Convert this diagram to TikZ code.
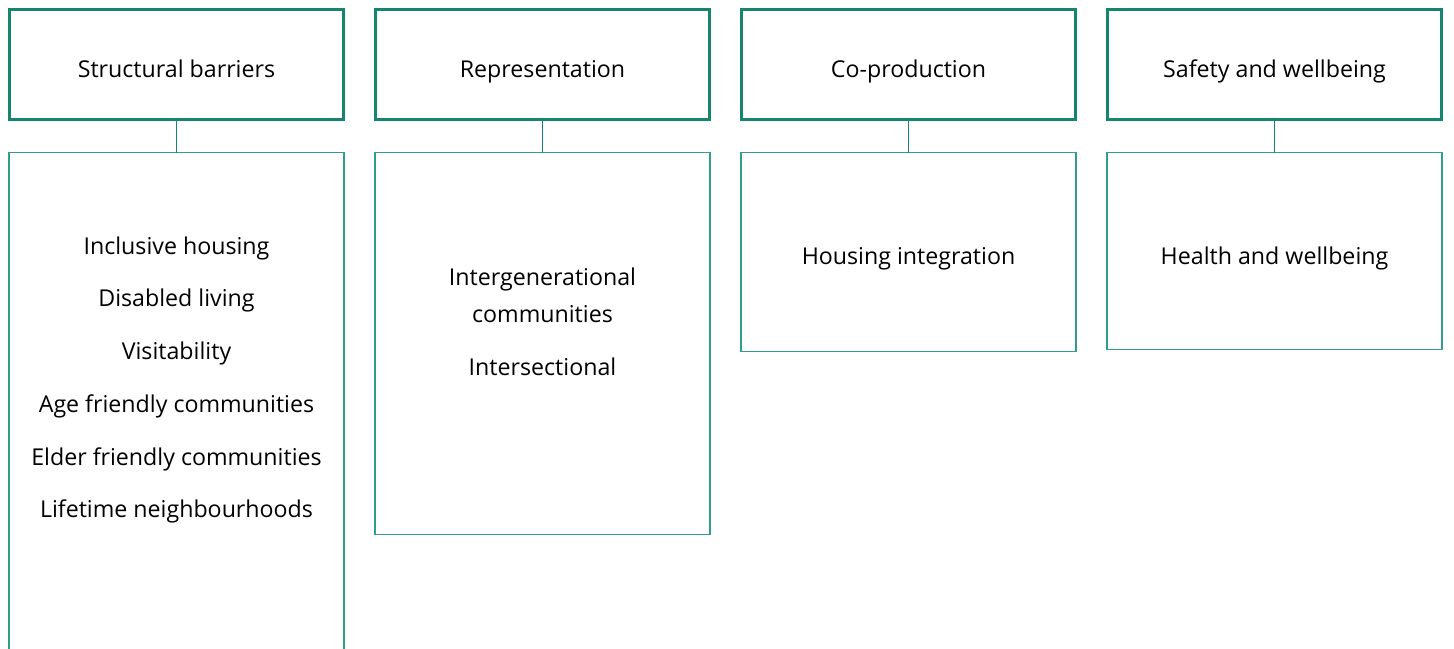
\documentclass[tikz,border=0pt]{standalone}
\usepackage{fontspec}
\setmainfont{Open Sans}
\usetikzlibrary{positioning}
\definecolor{headGreen}{RGB}{22,133,110}
\definecolor{bodyGreen}{RGB}{48,158,138}
\begin{document}
\begin{tikzpicture}
[headDecorate/.style={shape=rectangle,draw=headGreen,line width=1.8pt,inner sep=0pt,outer sep=0pt,
   minimum width=6.68cm,minimum height=2.2cm,text height=0.5cm,text depth=0cm,
   font=\fontsize{13.2}{15}\selectfont},%
  bodyDecorate/.style={shape=rectangle,draw=bodyGreen,line width=0.8pt,inner sep=0pt,outer sep=0pt,
   minimum width=6.7cm},%
  textDecorate/.style={align=center,font=\fontsize{13.2}{21}\selectfont},%
  lineDecorate/.style={-,draw=headGreen,line width=1.1pt}]
\useasboundingbox (0,0) rectangle (29.08,-12.96);
%% header boxes
\foreach \nodename/\x/\heading in {
  h1/3.53/Structural barriers, h2/10.85/Representation,
  h3/18.17/Co-production, h4/25.49/Safety and wellbeing}
{
  \node (\nodename) at (\x,-1.29) [headDecorate] {\heading};
}
%% body boxes
\foreach \nodename/\topname/\height in {
  b1/h1/10.94, b2/h2/7.64, b3/h3/3.98, b4/h4/3.94}
{
  \node (\nodename) [bodyDecorate,minimum height=\height cm,below=0.66cm of \topname] {};
}
%% texts in the body boxes
\foreach \nodename/\boxname/\depth/\entries in {
  t1/b1/4.55/{Inclusive housing\\[9pt]Disabled living\\[9pt]Visitability\\[9pt]Age friendly communities\\[9pt]Elder friendly communities\\[9pt]Lifetime neighbourhoods},
  t2/b2/3.39/{Intergenerational\\communities\\[9pt]Intersectional},
  t3/b3/2.13/{Housing integration},
  t4/b4/2.11/{Health and wellbeing}}
{
  \node (\nodename) at ([yshift=-\depth cm]\boxname.north) [textDecorate] {\entries};
}
%% connectors
\path
\foreach \startnode/\endnode in {
  h1/b1, h2/b2, h3/b3, h4/b4}
{
  (\startnode) edge[lineDecorate] (\endnode)
};
\end{tikzpicture}
\end{document}
